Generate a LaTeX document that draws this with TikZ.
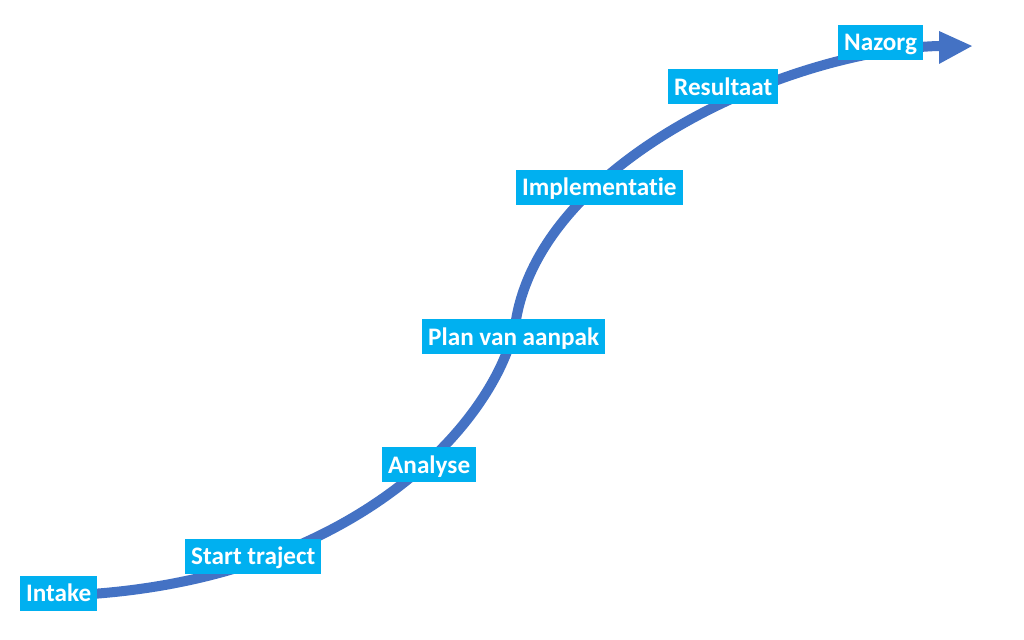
\documentclass[tikz,border=0pt]{standalone}
\usepackage{fontspec}
\setmainfont[Ligatures=NoCommon]{Carlito}
\usetikzlibrary{arrows.meta}
\definecolor{curveblue}{HTML}{4472C4}
\definecolor{boxcyan}{HTML}{00B0F0}
\tikzset{
  stage/.style={fill=boxcyan, text=white, anchor=west, inner xsep=6bp, inner ysep=0pt,
    text height=26bp, text depth=9bp, font=\fontsize{25.2bp}{30bp}\selectfont\bfseries},
  flow/.style={draw=curveblue, line width=10bp},
  tip/.style={fill=curveblue}
}
\begin{document}
\begin{tikzpicture}[x=1bp,y=1bp]
\useasboundingbox (0,0) rectangle (1024,640);
\coordinate (c0) at (40,44);
\coordinate (c1) at (516,320);
\coordinate (c2) at (939,594);
\coordinate (t1) at (939,609);
\coordinate (t2) at (939,576);
\coordinate (t3) at (972,594);
\draw[flow] (c0) .. controls (350,46) and (499,220) .. (c1)
  .. controls (543,480) and (789,590) .. (c2) -- ++(2,0);
\fill[tip] (t1) -- (t3) -- (t2) -- cycle;
\node[stage] (intake) at (20,46.5) {Intake};
\node[stage] (start) at (185,83.5) {Start traject};
\node[stage] (analyse) at (382,175) {Analyse};
\node[stage] (plan) at (422,303) {Plan van aanpak};
\node[stage] (impl) at (516,452.5) {Implementatie};
\node[stage] (result) at (668,553) {Resultaat};
\node[stage] (nazorg) at (838,597.5) {Nazorg};
\end{tikzpicture}
\end{document}
